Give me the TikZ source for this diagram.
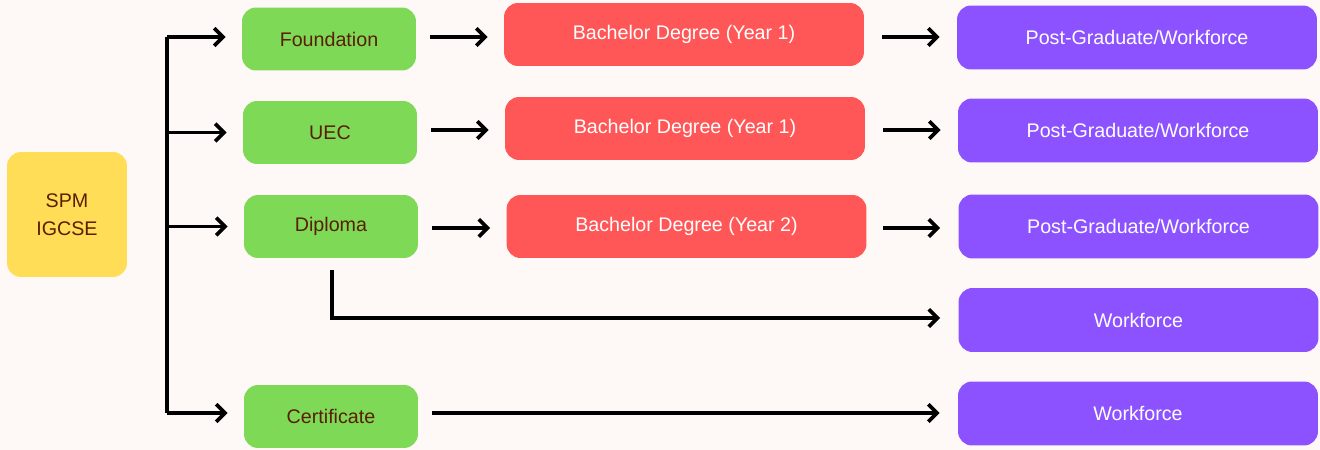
\documentclass[tikz,border=0pt]{standalone}
\usepackage{fontspec}
\setmainfont{Liberation Sans}
\usetikzlibrary{arrows.meta}
\definecolor{bgcol}{HTML}{FEF9F6}
\definecolor{yellowbox}{HTML}{FFDD57}
\definecolor{greenbox}{HTML}{7ED957}
\definecolor{redbox}{HTML}{FF5757}
\definecolor{purplebox}{HTML}{8C52FF}
\definecolor{darktext}{HTML}{5A1E05}
\begin{document}
\begin{tikzpicture}[x=0.02cm, y=-0.02cm]
        \tikzstyle{box}=[rounded corners=0.28cm, inner sep=0pt, font=\fontsize{11.2}{13.5}\selectfont, align=center]
        \tikzstyle{entry}=[box, fill=yellowbox, text=darktext, minimum width=2.4cm, minimum height=2.5cm, font=\fontsize{11.2}{16}\selectfont]
        \tikzstyle{prog}=[box, fill=greenbox, text=darktext, minimum width=3.48cm, minimum height=1.26cm]
        \tikzstyle{degree}=[box, fill=redbox, text=white, minimum width=7.2cm, minimum height=1.26cm]
        \tikzstyle{career}=[box, fill=purplebox, text=white, minimum width=7.2cm, minimum height=1.28cm]
        \tikzstyle{arr}=[line width=2.1pt, -{Straight Barb[length=5pt, width=10pt, line width=2.1pt]}]
            \fill[bgcol] (0,0) rectangle (1320,450);
            \useasboundingbox (0,0) rectangle (1320,450);
            \node[entry] (spm) at (67,214.5) {SPM\\IGCSE};
            \node[prog] (found) at (329,39) {Foundation};
            \node[prog] (uec) at (330,132.5) {UEC};
            \node[prog] (dip) at (331,226.5) {Diploma};
            \node[prog] (cert) at (331,416.5) {Certificate};
            \node[degree] (deg1) at (684,34.5) {Bachelor Degree (Year 1)};
            \node[degree] (deg2) at (685,128.5) {Bachelor Degree (Year 1)};
            \node[degree] (deg3) at (686.5,226.5) {Bachelor Degree (Year 2)};
            \node[career] (pg1) at (1137,37.5) {Post-Graduate/Workforce};
            \node[career] (pg2) at (1138,130.5) {Post-Graduate/Workforce};
            \node[career] (pg3) at (1138.5,226.5) {Post-Graduate/Workforce};
            \node[career] (wf1) at (1138.5,320) {Workforce};
            \node[career] (wf2) at (1138,413.5) {Workforce};
            \coordinate (top) at (167,37);
            \coordinate (bot) at (167,413);
            \coordinate (drop) at (332,270);
            \draw[line width=2.1pt] (top) -- (bot);
            \draw[arr, shorten >=0.32cm] (top) -- (top -| found.west);
            \draw[arr, shorten >=0.32cm] (uec.west -| top) -- (uec.west);
            \draw[arr, shorten >=0.32cm] (dip.west -| top) -- (dip.west);
            \draw[arr, shorten >=0.32cm] (bot) -- (bot -| cert.west);
            \draw[arr, shorten <=0.28cm, shorten >=0.32cm] (found.east |- 0,37) -- (deg1.west |- 0,37);
            \draw[arr, shorten <=0.28cm, shorten >=0.32cm] (uec.east |- 0,130) -- (deg2.west |- 0,130);
            \draw[arr, shorten <=0.28cm, shorten >=0.32cm] (dip.east |- 0,228) -- (deg3.west |- 0,228);
            \draw[arr, shorten <=0.36cm, shorten >=0.34cm] (deg1.east |- 0,37) -- (pg1.west |- 0,37);
            \draw[arr, shorten <=0.36cm, shorten >=0.34cm] (deg2.east |- 0,130) -- (pg2.west |- 0,130);
            \draw[arr, shorten <=0.32cm, shorten >=0.36cm] (deg3.east |- 0,228) -- (pg3.west |- 0,228);
            \draw[arr, shorten >=0.36cm] (drop) |- (wf1.west |- 0,318);
            \draw[arr, shorten <=0.28cm, shorten >=0.36cm] (cert.east |- 0,413) -- (wf2.west |- 0,413);
        \end{tikzpicture}
\end{document}
